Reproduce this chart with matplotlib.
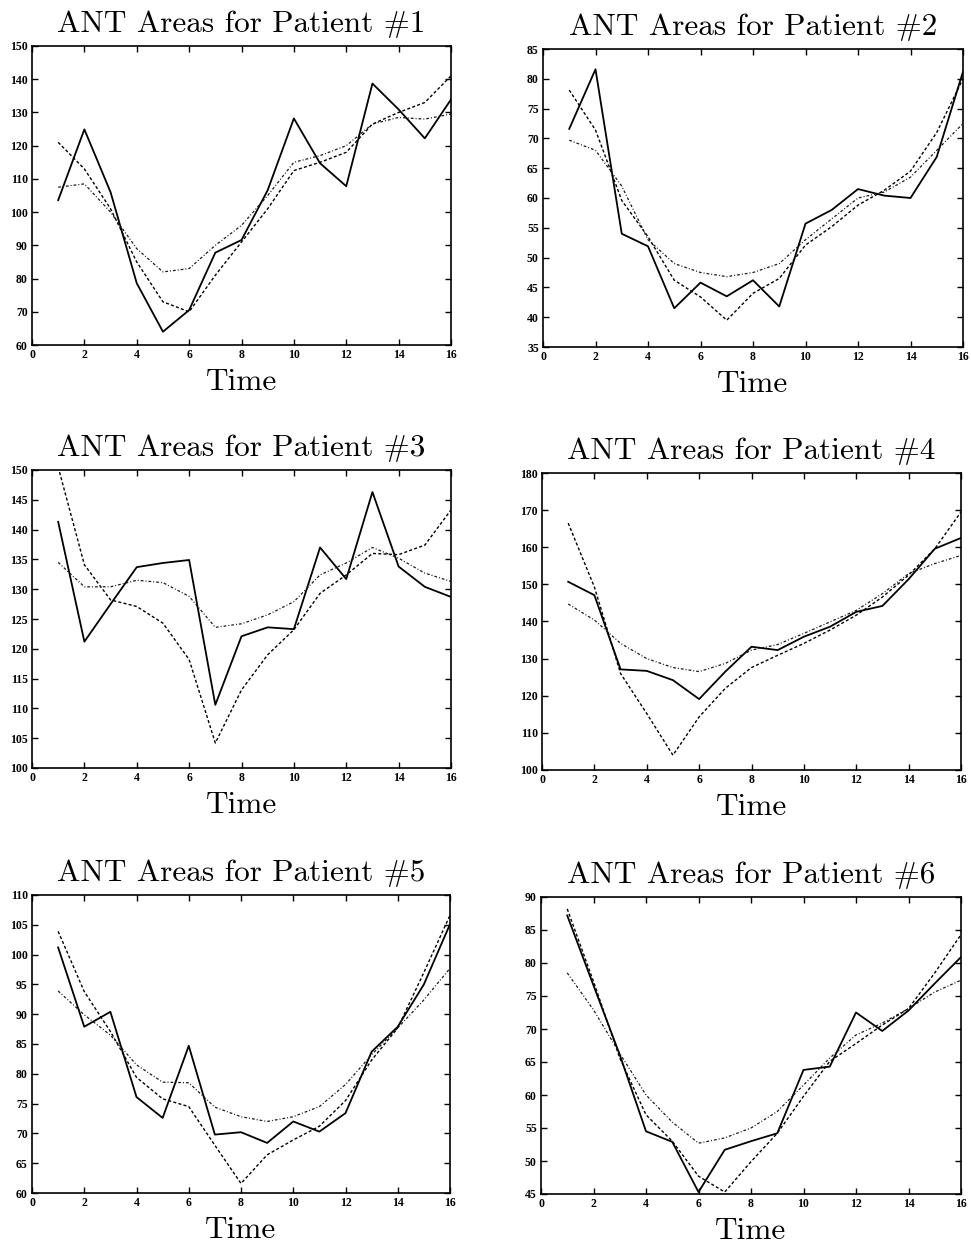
import matplotlib
matplotlib.use("Agg")
import matplotlib.pyplot as plt
import numpy as np

time = list(range(1, 17))

# Measured ANT areas (solid) and the two smoothed fits (dashed, dash-dot) per patient
p1_area = [103.6, 124.9, 106.0, 78.6, 64.0, 70.5, 87.8, 91.6, 106.6, 128.2, 114.7, 107.8, 138.7, 130.9, 122.2, 133.9]
p1_fit_a = [121.0, 113.0, 101.0, 85.0, 73.0, 70.0, 81.0, 91.0, 101.0, 112.5, 115.0, 118.0, 126.5, 130.0, 133.0, 141.0]
p1_fit_b = [107.5, 108.5, 100.0, 89.0, 82.0, 83.0, 90.0, 96.0, 105.0, 115.0, 117.0, 120.0, 126.5, 128.5, 128.0, 129.5]

p2_area = [71.6, 81.6, 54.0, 51.9, 41.5, 45.8, 43.5, 46.2, 41.8, 55.7, 58.0, 61.5, 60.4, 60.0, 66.9, 81.2]
p2_fit_a = [78.1, 71.4, 59.6, 53.5, 46.2, 43.4, 39.5, 44.0, 46.5, 52.1, 55.2, 58.8, 61.3, 64.5, 71.0, 80.0]
p2_fit_b = [69.7, 68.0, 62.0, 53.0, 49.0, 47.5, 46.8, 47.5, 49.0, 53.0, 56.5, 60.0, 61.0, 63.5, 68.0, 72.5]

p3_area = [141.3, 121.2, 127.5, 133.7, 134.4, 134.9, 110.6, 122.1, 123.6, 123.3, 137.0, 131.7, 146.3, 133.8, 130.4, 128.7]
p3_fit_a = [150.5, 134.1, 128.2, 127.1, 124.3, 118.2, 104.2, 113.1, 119.0, 123.2, 129.3, 132.4, 136.0, 135.8, 137.4, 143.3]
p3_fit_b = [134.5, 130.4, 130.4, 131.5, 131.1, 128.8, 123.6, 124.2, 125.7, 127.9, 132.4, 134.4, 137.0, 135.2, 132.7, 131.3]

p4_area = [150.7, 147.1, 127.1, 126.7, 124.2, 119.1, 126.5, 133.2, 132.3, 135.9, 138.6, 142.6, 144.2, 151.4, 159.6, 162.5]
p4_fit_a = [166.5, 149.3, 126.0, 115.2, 104.0, 114.3, 122.0, 127.6, 130.9, 134.1, 137.7, 141.7, 146.6, 152.5, 159.6, 169.5]
p4_fit_b = [144.7, 140.4, 134.1, 130.0, 127.6, 126.5, 128.7, 132.3, 133.8, 136.8, 139.9, 143.0, 147.5, 152.9, 155.6, 157.8]

p5_area = [101.2, 87.9, 90.4, 76.1, 72.6, 84.7, 69.8, 70.2, 68.4, 72.0, 70.3, 73.4, 83.7, 87.9, 95.0, 105.1]
p5_fit_a = [103.9, 93.8, 87.1, 79.4, 75.8, 74.5, 68.0, 61.6, 66.4, 68.9, 71.2, 75.5, 82.3, 87.7, 97.0, 106.6]
p5_fit_b = [93.9, 89.9, 86.5, 81.5, 78.6, 78.5, 74.4, 72.8, 72.0, 72.8, 74.5, 78.2, 83.2, 87.7, 92.4, 97.7]

p6_area = [87.2, 76.6, 66.1, 54.5, 52.9, 45.3, 51.7, 53.0, 54.2, 63.8, 64.3, 72.5, 69.7, 72.8, 76.9, 80.9]
p6_fit_a = [88.2, 77.2, 65.6, 57.0, 53.0, 47.7, 45.3, 49.9, 54.2, 59.8, 65.1, 67.8, 70.6, 73.1, 78.5, 84.3]
p6_fit_b = [78.5, 72.9, 66.3, 60.0, 55.9, 52.7, 53.5, 55.0, 57.5, 61.5, 65.6, 69.1, 70.9, 73.1, 75.6, 77.4]

patients = [
    (p1_area, p1_fit_a, p1_fit_b, (60, 150), 10),
    (p2_area, p2_fit_a, p2_fit_b, (35, 85), 5),
    (p3_area, p3_fit_a, p3_fit_b, (100, 150), 5),
    (p4_area, p4_fit_a, p4_fit_b, (100, 180), 10),
    (p5_area, p5_fit_a, p5_fit_b, (60, 110), 5),
    (p6_area, p6_fit_a, p6_fit_b, (45, 90), 5),
]

W, H = 971, 1245
fig = plt.figure(figsize=(W / 100, H / 100), dpi=100)

# panel boxes in pixels: left, right, top, bottom
boxes = [
    (32, 451, 46, 345),
    (543, 963, 49, 347),
    (32, 451, 470, 768),
    (542, 961, 473, 770),
    (32, 450, 895, 1193),
    (541, 961, 897, 1194),
]

title_font = dict(family="cmr10", size=22.5)
tick_font = dict(family="Liberation Serif", weight="bold", size=8.5)

for i, ((area, fa, fb, ylim, ystep), (l, r, t, b)) in enumerate(zip(patients, boxes)):
    ax = fig.add_axes([l / W, 1 - b / H, (r - l) / W, (b - t) / H])
    ax.plot(time, area, color="black", lw=1.3, ls="-")
    ax.plot(time, fa, color="black", lw=1.0, ls=(0, (2.2, 1.6)))
    ax.plot(time, fb, color="#1a1a1a", lw=0.9, ls=(0, (2.2, 1.6, 0.8, 1.6)))
    ax.set_xlim(0, 16)
    ax.set_ylim(*ylim)
    ax.set_xticks(np.arange(0, 17, 2))
    ax.set_yticks(np.arange(ylim[0], ylim[1] + 0.1, ystep))
    ax.tick_params(direction="in", length=4, width=1, top=True, right=True, pad=3)
    for lab in ax.get_xticklabels() + ax.get_yticklabels():
        lab.set_fontfamily(tick_font["family"])
        lab.set_fontweight(tick_font["weight"])
        lab.set_fontsize(tick_font["size"])
    for sp in ax.spines.values():
        sp.set_linewidth(1.2)
    ax.set_title(f"ANT Areas for Patient #{i + 1}", fontdict=title_font, pad=10)
    ax.set_xlabel("Time", fontdict=title_font, labelpad=5)

fig.savefig("out.png", dpi=100)
